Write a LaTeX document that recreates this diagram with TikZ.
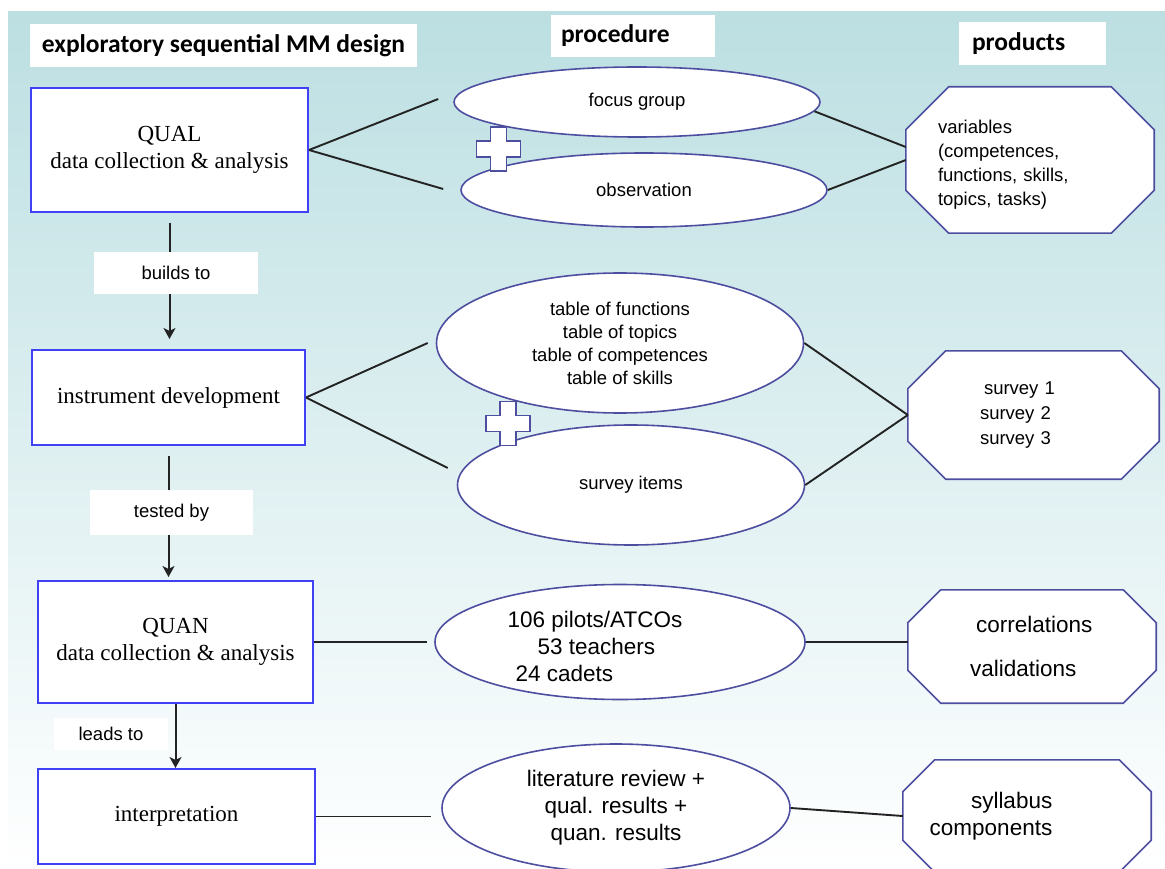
\documentclass[tikz,border=0pt]{standalone}
\usepackage{fontspec}
\setmainfont{Liberation Serif}
\setsansfont{Liberation Sans}
\newfontfamily\headfont{Carlito}
\usetikzlibrary{positioning}
\usetikzlibrary{shapes.geometric}
\usetikzlibrary{arrows.meta}
\usetikzlibrary{calc}
\pgfdeclarelayer{back}
\pgfdeclarelayer{rim}
\pgfsetlayers{back,rim,main}
\definecolor{bgteal}{RGB}{188,223,226}
\definecolor{boxblue}{RGB}{64,64,245}
\definecolor{rimblue}{RGB}{78,78,160}
\definecolor{inkgray}{RGB}{35,35,35}
\tikzset{>={Stealth[length=11pt,width=12pt,inset=3pt]}}
\tikzset{headbox/.style={fill=white, inner sep=0pt, font=\headfont\bfseries\fontsize{25.5}{30}\selectfont}}
\tikzset{stagebox/.style={draw=boxblue, line width=2pt, fill=white, align=center, font=\fontsize{23}{27}\selectfont}}
\tikzset{proc/.style={ellipse, draw=rimblue, line width=1.6pt, fill=white, inner sep=0pt, align=center, font=\sffamily\fontsize{18.5}{23}\selectfont}}
\tikzset{bigtext/.style={font=\sffamily\fontsize{22.5}{27}\selectfont}}
\tikzset{prod/.style={inner sep=0pt, font=\sffamily\fontsize{18.5}{24}\selectfont}}
\tikzset{octrim/.style={draw=rimblue, line width=1.6pt, fill=white}}
\tikzset{tag/.style={fill=white, inner sep=0pt, font=\sffamily\fontsize{18.5}{20}\selectfont}}
\tikzset{link/.style={draw=inkgray, line width=1.9pt}}
\tikzset{flow/.style={->, draw=inkgray, line width=2pt}}
\tikzset{plussign/.pic={
  \draw[rimblue, line width=1.5pt, fill=white] (-8,-22) -- (8,-22) -- (8,-8) -- (22,-8) -- (22,8) -- (8,8)
    -- (8,22) -- (-8,22) -- (-8,8) -- (-22,8) -- (-22,-8) -- (-8,-8) -- cycle;}}
% octagon round a product node: #1 node, #2 cut
\newcommand\octround[2]{%
  \begin{pgfonlayer}{rim}
    \draw[octrim] ($(#1.north west)+(#2,0)$) -- ($(#1.north east)+(-#2,0)$) -- ($(#1.north east)+(0,#2)$)
      -- ($(#1.south east)+(0,-#2)$) -- ($(#1.south east)+(-#2,0)$) -- ($(#1.south west)+(#2,0)$)
      -- ($(#1.south west)+(0,-#2)$) -- ($(#1.north west)+(0,#2)$) -- cycle;
  \end{pgfonlayer}}

\begin{document}
\begin{tikzpicture}[x=1pt, y=-1pt]
  \useasboundingbox (0,0) rectangle (1165,869);
  \begin{pgfonlayer}{back}
    \shade[top color=bgteal, bottom color=white] (8,12) rectangle (1165,869);
  \end{pgfonlayer}

  % column heads
  \node[headbox, minimum width=387pt, minimum height=43pt] (design) at (223.5,45.5) {exploratory sequential MM design};
  \node[headbox, text width=144pt, inner xsep=10pt, minimum height=42pt, align=left] (procedure) at (633,36) {procedure};
  \node[headbox, text width=121pt, inner xsep=13pt, minimum height=43pt, align=left] (products) at (1032.5,43.5) {products};

  % stages
  \node[stagebox, minimum width=277pt, minimum height=124pt] (qual) at (169.5,150) {QUAL\\data collection \& analysis};
  \node[stagebox, minimum width=273pt, minimum height=95pt] (instr) at (168.5,397.5) {instrument development};
  \node[stagebox, minimum width=275pt, minimum height=122pt] (quan) at (175.5,642) {QUAN\\data collection \& analysis};
  \node[stagebox, minimum width=277pt, minimum height=95pt] (interp) at (176.5,816.5) {interpretation};

  % procedure
  \node[proc, minimum width=366pt, minimum height=70pt] (focus) at (637,102) {focus group};
  \node[proc, minimum width=366pt, minimum height=74pt] (observ) at (644,190) {observation};
  \node[proc, minimum width=367pt, minimum height=140pt] (tables) at (620,343) {table of functions\\table of topics\\table of competences\\table of skills};
  \node[proc, minimum width=347pt, minimum height=120pt] (items) at (631,485) {survey items};
  \node[proc, bigtext, minimum width=370pt, minimum height=115pt, align=left] (pilots) at (620,642)
    {\rule{0pt}{26pt}106 pilots/ATCOs\hspace*{50pt}\\\hspace*{30pt}53 teachers\\\hspace*{8pt}24 cadets};
  \node[proc, bigtext, minimum width=348pt, minimum height=128pt] (review) at (616,808) {literature review +\\qual. results +\\quan. results};

  % products
  \node[prod, minimum width=248pt, minimum height=146pt, text width=184pt, align=left] (vars) at (1030,160)
    {\rule{0pt}{23pt}variables\\(competences,\\functions, skills,\\topics, tasks)};
  \node[prod, minimum width=251pt, minimum height=128pt, text width=107pt, align=left,
    font=\sffamily\fontsize{18.5}{25}\selectfont] (survey) at (1033.5,415) {\hspace*{4pt}survey 1\\survey 2\\survey 3};
  \node[prod, bigtext, minimum width=248pt, minimum height=113pt, text width=124pt, align=left] (corr) at (1032,646.5)
    {\hspace*{6pt}correlations\\[17pt]validations};
  \node[prod, bigtext, minimum width=248pt, minimum height=112pt, align=right] (syll) at (1027,816)
    {syllabus\hspace*{72pt}\\components\hspace*{72pt}};
  \octround{vars}{43}
  \octround{survey}{38}
  \octround{corr}{33}
  \octround{syll}{32}

  % links
  \draw[link] (qual.east) -- ([shift={(-15,-3)}]focus.west);
  \draw[link] (qual.east) -- ([shift={(-17,-1)}]observ.west);
  \draw[link] (focus.-3) -- ([shift={(0,-13)}]vars.west);
  \draw[link] (observ.east) -- (vars.west);
  \draw[link] (instr.east) -- ([shift={(-8,0)}]tables.west);
  \draw[link] (instr.east) -- ([shift={(-9,-17)}]items.west);
  \draw[link] (tables.east) -- (survey.west);
  \draw[link] (items.east) -- (survey.west);
  \draw[link] (quan.east) -- ([shift={(-7,0)}]pilots.west);
  \draw[link] (pilots.east) -- (pilots.east -| corr.west);
  \draw[link] (interp.east) -- ($(interp.east -| review.west)+(-10,0)$);
  \draw[link] (review.east) -- (syll.west);

  % flow
  \draw[flow, shorten <=10pt, shorten >=10pt] (qual.south) -- (qual.south |- instr.north);
  \draw[flow, shorten <=10pt, shorten >=3pt] (instr.south) -- (instr.south |- quan.north);
  \draw[flow] (quan.south) -- (quan.south |- interp.north);
  \node[tag, minimum width=164pt, minimum height=42pt] (builds) at (176,273) {builds to};
  \node[tag, minimum width=163pt, minimum height=45pt] (tested) at (171.5,512.5) {tested by};
  \node[tag, minimum width=114pt, minimum height=32pt] (leads) at (111,734) {leads to};

  \pic at (498.5,149) {plussign};
  \pic at (508,423.5) {plussign};
\end{tikzpicture}
\end{document}
